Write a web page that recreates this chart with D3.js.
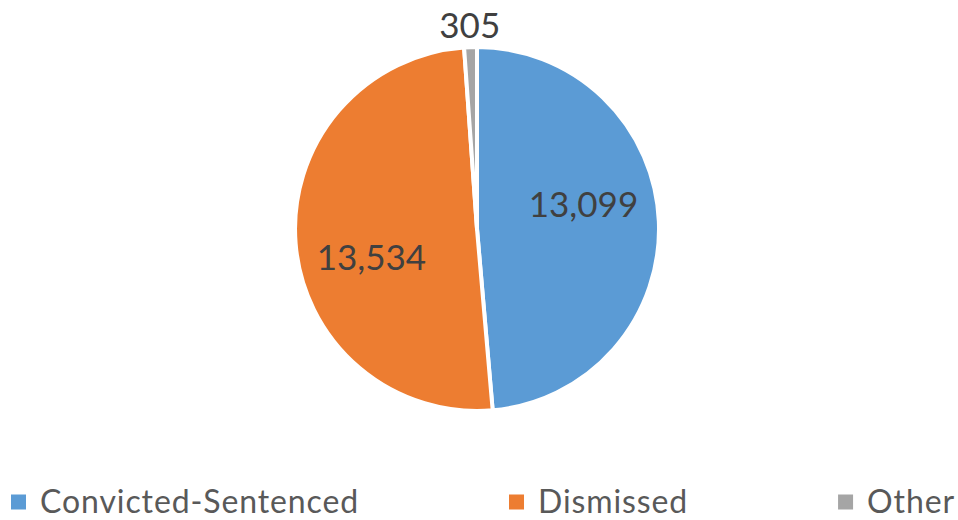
<!DOCTYPE html>
<html>
<head>
<meta charset="utf-8">
<script src="https://cdn.jsdelivr.net/npm/d3@7"></script>
<style>
  html, body { margin: 0; padding: 0; background: #fff; }
  svg { display: block; }
</style>
</head>
<body>
<svg id="chart" width="958" height="520"></svg>
<script>
const categories = ["Convicted-Sentenced", "Dismissed", "Other"];
const values = [13099, 13534, 305];
const valueLabels = ["13,099", "13,534", "305"];
const colors = ["#5B9BD5", "#ED7D31", "#A5A5A5"];

const W = 958, H = 520;
const cx = 477, cy = 229, R = 182;
const font = "Lato, 'Open Sans', sans-serif";

const svg = d3.select("#chart");
const data = categories.map((c, i) => ({ name: c, value: values[i], label: valueLabels[i], color: colors[i] }));

const pie = d3.pie().sort(null).value(d => d.value);
const arcs = pie(data);
const arc = d3.arc().innerRadius(0).outerRadius(R);

const g = svg.append("g").attr("transform", `translate(${cx},${cy})`);
g.selectAll("path.slice")
  .data(arcs)
  .enter().append("path")
  .attr("class", "slice")
  .attr("d", arc)
  .attr("fill", d => d.data.color)
  .attr("stroke", "#fff")
  .attr("stroke-width", 4)
  .attr("stroke-linejoin", "round");

// data labels: inside for large slices, outside for the tiny one
function labelPos(d) {
  const frac = (d.endAngle - d.startAngle) / (2 * Math.PI);
  const mid = (d.startAngle + d.endAngle) / 2;
  if (frac > 0.1) {
    const a = mid - 0.18;
    const r = 0.6 * R;
    return [r * Math.sin(a), -r * Math.cos(a)];
  } else {
    const r = R + 22;
    return [r * Math.sin(mid), -r * Math.cos(mid)];
  }
}
g.selectAll("text.lbl")
  .data(arcs)
  .enter().append("text")
  .attr("class", "lbl")
  .attr("x", d => labelPos(d)[0])
  .attr("y", d => labelPos(d)[1])
  .attr("text-anchor", "middle")
  .attr("dy", "0.36em")
  .attr("font-family", font)
  .attr("font-size", 35)
  .attr("fill", "#404040")
  .text(d => d.data.label);

// legend
const legY = 501, sq = 15, pad = 14;
const leftX = 11, rightX = 955;
const leg = svg.append("g");
const items = leg.selectAll("g.item").data(data).enter().append("g").attr("class", "item");
items.append("rect")
  .attr("width", sq).attr("height", sq)
  .attr("y", legY - sq / 2 + 1)
  .attr("fill", d => d.color);
items.append("text")
  .attr("x", sq + pad)
  .attr("y", legY)
  .attr("dy", "0.36em")
  .attr("font-family", font)
  .attr("font-size", 32)
  .attr("letter-spacing", 0.9)
  .attr("fill", "#595959")
  .text(d => d.name);
const widths = [];
items.each(function () { widths.push(this.getBBox().width); });
const total = d3.sum(widths);
const gap = (rightX - leftX - total) / (data.length - 1);
let x = leftX;
items.each(function (d, i) {
  d3.select(this).attr("transform", `translate(${x},0)`);
  x += widths[i] + gap;
});
</script>
</body>
</html>
